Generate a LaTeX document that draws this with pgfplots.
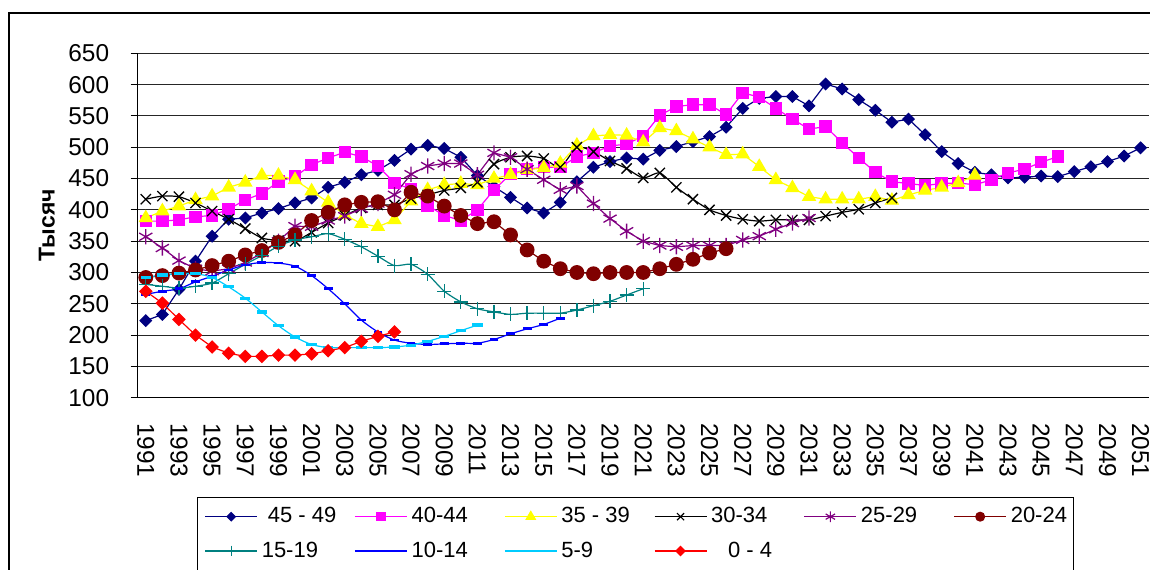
\documentclass[border=0pt]{standalone}
\usepackage{pgfplots}
\pgfplotsset{compat=1.18}
\usepackage{fontspec}
\setmainfont{Liberation Sans}
\definecolor{cNavy}{HTML}{000080}
\definecolor{cMag}{HTML}{FF00FF}
\definecolor{cYel}{HTML}{FFFF00}
\definecolor{cPur}{HTML}{800080}
\definecolor{cDred}{HTML}{800000}
\definecolor{cTeal}{HTML}{008080}
\definecolor{cBlue}{HTML}{0000FF}
\definecolor{cCyan}{HTML}{00CCFF}
\definecolor{cRed}{HTML}{FF0000}
\newcommand{\tickfont}{\fontsize{12.2}{14}\selectfont}
\newcommand{\legfont}{\fontsize{11}{13}\selectfont}
\begin{document}
\begin{tikzpicture}
\path[use as bounding box] (0pt,0pt) rectangle (575pt,284.5pt);
\draw[line width=0.8pt] (4.5pt,-30pt) rectangle (620pt,278pt);
\begin{axis}[
  at={(68.75pt,85.65pt)}, anchor=south west,
  scale only axis, width=505.7pt, height=172.2pt,
  xmin=1990.5, xmax=2051.5, ymin=100, ymax=650,
  clip=false,
  axis x line*=bottom, axis y line*=left,
  axis line style={-, black, line width=0.6pt},
  xtick={1991,1993,...,2051},
  minor xtick={1990.5,1991.5,...,2051.5},
  xtick style={draw=none},
  minor x tick style={black, line width=0.5pt},
  minor tick length=3pt,
  ytick={100,150,...,650},
  ytick style={black, line width=0.5pt},
  major tick length=3.5pt,
  tick align=outside,
  ymajorgrids,
  major grid style={black!85, line width=0.5pt},
  tick label style={font=\tickfont},
  /pgf/number format/assume math mode=true,
  x tick label style={/pgf/number format/1000 sep={}, rotate=-90, anchor=west, inner sep=0pt},
  xticklabel shift=9pt,
  y tick label style={anchor=east, inner sep=0pt},
  yticklabel shift=10.5pt,
  ylabel={\fontsize{11.5}{13}\selectfont\bfseries Тысяч},
  every axis y label/.style={at={(axis description cs:-0.0897,0.5)}, rotate=90, anchor=center},
  legend columns=6,
  legend style={at={(axis description cs:0.0589,-0.2883)}, anchor=north west,
    draw=black, line width=0.5pt, font=\legfont, inner xsep=3.5pt, inner ysep=5pt,
    row sep=8pt,
    nodes={inner sep=0pt, anchor=west},
    /tikz/every odd column/.append style={column sep=2pt},
    /tikz/every even column/.append style={column sep=6.3pt}},
  legend cell align=left,
  legend image code/.code={\draw[mark repeat=2,mark phase=2] plot coordinates {(0pt,0pt) (13pt,0pt) (26pt,0pt)};},
]
% 45-49
\addplot[forget plot, cNavy, line width=0.6pt, mark=square*, mark size=2.0pt, mark options={rotate=45, fill=cNavy, draw=cNavy}] coordinates {
(1991,223) (1992,233) (1993,273) (1994,318) (1995,358) (1996,385) (1997,387) (1998,395) (1999,402) (2000,411)
(2001,419) (2002,436) (2003,444) (2004,456) (2005,463) (2006,479) (2007,497) (2008,503) (2009,498) (2010,484)
(2011,455) (2012,437) (2013,420) (2014,403) (2015,395) (2016,412) (2017,445) (2018,468) (2019,477) (2020,483)
(2021,481) (2022,495) (2023,501) (2024,509) (2025,517) (2026,532) (2027,562) (2028,578) (2029,581) (2030,581)
(2031,566) (2032,601) (2033,593) (2034,576) (2035,559) (2036,540) (2037,545) (2038,520) (2039,493) (2040,474)
(2041,460) (2042,456) (2043,451) (2044,452) (2045,454) (2046,453) (2047,461) (2048,469) (2049,477) (2050,486) (2051,499)};
\addlegendimage{cNavy, line width=0.6pt, mark=square*, mark size=1.45pt, mark options={rotate=45, fill=cNavy, draw=cNavy}}
\addlegendentry{\makebox[40pt][l]{\hspace{3pt}45 - 49}}
% 40-44
\addplot[forget plot, cMag, line width=0.6pt, mark=square*, mark size=2.8pt, mark options={fill=cMag, draw=cMag}] coordinates {
(1991,382) (1992,382) (1993,384) (1994,389) (1995,391) (1996,401) (1997,416) (1998,426) (1999,445) (2000,453)
(2001,472) (2002,483) (2003,492) (2004,485) (2005,470) (2006,443) (2007,433) (2008,407) (2009,391) (2010,383)
(2011,400) (2012,432) (2013,457) (2014,465) (2015,468) (2016,468) (2017,485) (2018,491) (2019,502) (2020,505)
(2021,518) (2022,551) (2023,565) (2024,568) (2025,568) (2026,552) (2027,587) (2028,580) (2029,562) (2030,545)
(2031,529) (2032,533) (2033,507) (2034,483) (2035,460) (2036,445) (2037,442) (2038,439) (2039,442) (2040,443)
(2041,440) (2042,448) (2043,459) (2044,465) (2045,476) (2046,485)};
\addlegendimage{cMag, line width=0.6pt, mark=square*, mark size=2pt, mark options={fill=cMag, draw=cMag}}
\addlegendentry{\makebox[40pt][l]{40-44}}
% 35-39
\addplot[forget plot, cYel, line width=0.6pt, mark=triangle*, mark size=3.6pt, mark options={fill=cYel, draw=cYel}] coordinates {
(1991,387) (1992,398) (1993,406) (1994,416) (1995,422) (1996,436) (1997,444) (1998,455) (1999,455) (2000,448)
(2001,430) (2002,412) (2003,392) (2004,378) (2005,373) (2006,384) (2007,414) (2008,432) (2009,440) (2010,442)
(2011,440) (2012,450) (2013,456) (2014,464) (2015,467) (2016,474) (2017,503) (2018,518) (2019,520) (2020,519)
(2021,508) (2022,531) (2023,526) (2024,513) (2025,500) (2026,488) (2027,489) (2028,469) (2029,448) (2030,435)
(2031,421) (2032,417) (2033,417) (2034,417) (2035,421) (2036,415) (2037,424) (2038,431) (2039,436) (2040,443) (2041,455)};
\addlegendimage{cYel, line width=0.6pt, mark=triangle*, mark size=2.6pt, mark options={fill=cYel, draw=cYel}}
\addlegendentry{\makebox[40pt][l]{35 - 39}}
% 30-34
\addplot[forget plot, black, line width=0.6pt, smooth, tension=0.4, mark=x, mark size=3.6pt, mark options={line width=0.65pt}] coordinates {
(1991,417) (1992,422) (1993,421) (1994,411) (1995,398) (1996,385) (1997,370) (1998,355) (1999,351) (2000,350)
(2001,364) (2002,379) (2003,391) (2004,403) (2005,408) (2006,408) (2007,418) (2008,424) (2009,431) (2010,435)
(2011,444) (2012,473) (2013,484) (2014,486) (2015,482) (2016,468) (2017,500) (2018,493) (2019,478) (2020,466)
(2021,451) (2022,459) (2023,436) (2024,417) (2025,400) (2026,391) (2027,385) (2028,382) (2029,384) (2030,384)
(2031,384) (2032,390) (2033,396) (2034,401) (2035,411) (2036,419)};
\addlegendimage{black, line width=0.6pt, mark=x, mark size=2.5pt, mark options={line width=0.6pt}}
\addlegendentry{\makebox[40pt][l]{30-34}}
% 25-29
\addplot[forget plot, cPur, line width=0.6pt, mark=asterisk, mark size=3.8pt, mark options={line width=0.65pt}] coordinates {
(1991,357) (1992,339) (1993,319) (1994,306) (1995,302) (1996,306) (1997,316) (1998,331) (1999,350) (2000,374)
(2001,373) (2002,383) (2003,390) (2004,402) (2005,410) (2006,424) (2007,457) (2008,470) (2009,474) (2010,474)
(2011,456) (2012,491) (2013,484) (2014,465) (2015,448) (2016,432) (2017,438) (2018,410) (2019,386) (2020,366)
(2021,350) (2022,343) (2023,341) (2024,343) (2025,343) (2026,343) (2027,352) (2028,358) (2029,369) (2030,379) (2031,387)};
\addlegendimage{cPur, line width=0.6pt, mark=asterisk, mark size=2.7pt, mark options={line width=0.6pt}}
\addlegendentry{\makebox[40pt][l]{25-29}}
% 20-24
\addplot[forget plot, cDred, line width=0.6pt, mark=*, mark size=3.4pt, mark options={fill=cDred, draw=cDred}] coordinates {
(1991,292) (1992,295) (1993,299) (1994,304) (1995,311) (1996,318) (1997,328) (1998,335) (1999,348) (2000,360)
(2001,383) (2002,396) (2003,408) (2004,412) (2005,413) (2006,400) (2007,428) (2008,422) (2009,406) (2010,391)
(2011,378) (2012,381) (2013,360) (2014,336) (2015,318) (2016,306) (2017,300) (2018,298) (2019,300) (2020,300)
(2021,300) (2022,306) (2023,313) (2024,321) (2025,331) (2026,338)};
\addlegendimage{cDred, line width=0.6pt, mark=*, mark size=2.2pt, mark options={fill=cDred, draw=cDred}}
\addlegendentry{\makebox[28pt][l]{20-24}}
% 15-19
\addplot[forget plot, cTeal, line width=0.6pt, smooth, tension=0.4, mark=+, mark size=3.5pt, mark options={line width=0.65pt}] coordinates {
(1991,281) (1992,278) (1993,275) (1994,278) (1995,283) (1996,298) (1997,313) (1998,327) (1999,342) (2000,352)
(2001,357) (2002,362) (2003,353) (2004,341) (2005,326) (2006,311) (2007,313) (2008,297) (2009,270) (2010,253)
(2011,242) (2012,237) (2013,233) (2014,235) (2015,235) (2016,235) (2017,240) (2018,247) (2019,254) (2020,264) (2021,274)};
\addlegendimage{cTeal, line width=0.6pt, mark=+, mark size=2.7pt, mark options={line width=0.6pt}}
\addlegendentry{\makebox[40pt][l]{15-19}}
% 10-14
\addplot[forget plot, cBlue, line width=0.6pt, smooth, tension=0.5, mark=-, mark size=2.2pt, mark options={line width=1.4pt}] coordinates {
(1991,265) (1992,270) (1993,274) (1994,285) (1995,294) (1996,304) (1997,312) (1998,316) (1999,315) (2000,310)
(2001,295) (2002,274) (2003,250) (2004,224) (2005,205) (2006,192) (2007,187) (2008,185) (2009,186) (2010,187)
(2011,187) (2012,193) (2013,202) (2014,210) (2015,217) (2016,227)};
\addlegendimage{cBlue, line width=0.6pt, mark=-, mark size=1.4pt, mark options={line width=1.2pt}}
\addlegendentry{\makebox[40pt][l]{10-14}}
% 5-9
\addplot[forget plot, cCyan, line width=0.6pt, smooth, tension=0.5, mark=-, mark size=2.6pt, mark options={line width=1.6pt}] coordinates {
(1991,292) (1992,296) (1993,298) (1994,298) (1995,292) (1996,277) (1997,259) (1998,237) (1999,215) (2000,197)
(2001,185) (2002,180) (2003,180) (2004,180) (2005,180) (2006,181) (2007,184) (2008,190) (2009,198) (2010,207) (2011,216)};
\addlegendimage{cCyan, line width=0.6pt, mark=-, mark size=1.7pt, mark options={line width=1.3pt}}
\addlegendentry{\makebox[40pt][l]{5-9}}
% 0-4
\addplot[forget plot, cRed, line width=0.6pt, mark=square*, mark size=2.1pt, mark options={rotate=45, fill=cRed, draw=cRed}] coordinates {
(1991,270) (1992,251) (1993,225) (1994,200) (1995,181) (1996,171) (1997,166) (1998,166) (1999,168) (2000,168)
(2001,170) (2002,175) (2003,180) (2004,190) (2005,198) (2006,205)};
\addlegendimage{cRed, line width=0.6pt, mark=square*, mark size=1.6pt, mark options={rotate=45, fill=cRed, draw=cRed}}
\addlegendentry{\makebox[40pt][l]{\hspace{8.5pt}0 - 4}}
\end{axis}
\end{tikzpicture}
\end{document}
